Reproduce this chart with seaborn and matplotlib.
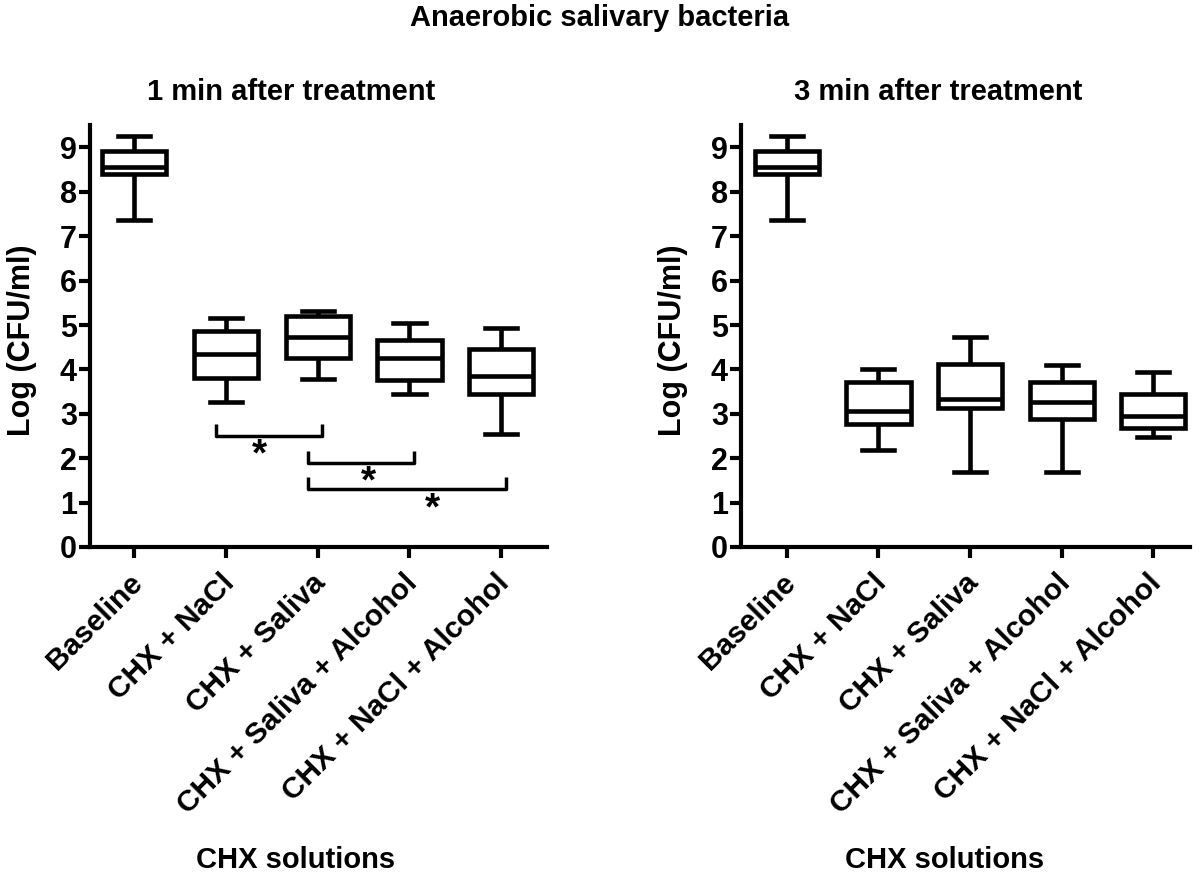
import numpy as np
import pandas as pd
import matplotlib
matplotlib.use("Agg")
import matplotlib.pyplot as plt
import matplotlib.transforms as mtrans
import seaborn as sns

groups = ['Baseline', 'CHX + NaCl', 'CHX + Saliva',
          'CHX + Saliva + Alcohol', 'CHX + NaCl + Alcohol']

# five-number summaries per group: min, q1, median, q3, max
stats_1min = [
    [7.37, 8.40, 8.55, 8.91, 9.25],
    [3.26, 3.81, 4.35, 4.86, 5.15],
    [3.79, 4.26, 4.74, 5.20, 5.31],
    [3.44, 3.77, 4.25, 4.67, 5.04],
    [2.54, 3.44, 3.86, 4.45, 4.94],
]
stats_3min = [
    [7.37, 8.40, 8.55, 8.91, 9.25],
    [2.18, 2.78, 3.06, 3.71, 4.01],
    [1.69, 3.14, 3.34, 4.13, 4.74],
    [1.69, 2.89, 3.26, 3.71, 4.10],
    [2.48, 2.69, 2.94, 3.44, 3.94],
]

# significance brackets (1 min panel): start, end, height
sig_left = [1, 2, 2]
sig_right = [2, 3, 4]
sig_y = [2.5, 1.9, 1.3]

plt.rcParams['font.family'] = ['Liberation Sans', 'DejaVu Sans']
plt.rcParams['font.weight'] = 'bold'

def to_frame(stats):
    rows = []
    for g, vals in zip(groups, stats):
        for v in vals:
            rows.append((g, v))
    return pd.DataFrame(rows, columns=['group', 'value'])

fig = plt.figure(figsize=(12, 8.76), dpi=100)
ax1 = fig.add_axes([0.075, 0.3756, 0.381, 0.4814])
ax2 = fig.add_axes([0.6175, 0.3756, 0.3742, 0.4814])

shift = mtrans.ScaledTranslation(-6 / 100, -6 / 100, fig.dpi_scale_trans)

for ax, stats, title, xlim in [(ax1, stats_1min, '1 min after treatment', (-0.48, 4.5)),
                               (ax2, stats_3min, '3 min after treatment', (-0.5, 4.4))]:
    df = to_frame(stats)
    sns.boxplot(data=df, x='group', y='value', order=groups, ax=ax,
                color='white', linecolor='black', linewidth=3.3,
                whis=(0, 100), width=0.7, showfliers=False)
    ax.set_xlim(*xlim)
    ax.set_ylim(0, 9.5)
    ax.set_yticks(range(10))
    for s in ['top', 'right']:
        ax.spines[s].set_visible(False)
    for s in ['left', 'bottom']:
        ax.spines[s].set_linewidth(3)
    ax.tick_params(width=3, length=8, labelsize=22, direction='out')
    ax.tick_params(axis='y', pad=1.5)
    ax.set_xticks(range(len(groups)))
    ax.set_xticklabels(groups, rotation=45, ha='right', va='top',
                       rotation_mode='anchor', fontsize=21.5, fontweight='bold')
    for lab in ax.get_xticklabels():
        lab.set_transform(lab.get_transform() + shift)
    for lab in ax.get_yticklabels():
        lab.set_fontweight('bold')
    ax.set_xlabel('CHX solutions', fontsize=21, fontweight='bold')
    ax.set_ylabel('Log (CFU/ml)', fontsize=22, fontweight='bold')
    ax.text(0.44, 1.078, title, transform=ax.transAxes, ha='center',
            va='center', fontsize=21, fontweight='bold')

ax1.xaxis.set_label_coords(0.449, -0.71)
ax2.xaxis.set_label_coords(0.454, -0.71)
ax1.yaxis.set_label_coords(-0.115, 0.49)
ax2.yaxis.set_label_coords(-0.118, 0.49)

# brackets with stars
for a, b, y in zip(sig_left, sig_right, sig_y):
    x0, x1 = a - 0.11, b + 0.05
    ax1.plot([x0, x0, x1, x1], [y + 0.27, y, y, y + 0.27], color='black', lw=2.5,
             solid_capstyle='butt', clip_on=False)
star_x = [1.37, 2.55, 3.25]
star_y = [2.05, 1.45, 0.85]
for x, y in zip(star_x, star_y):
    ax1.text(x, y, '*', ha='center', va='center', fontsize=28, fontweight='bold')

fig.text(0.5, 0.979, 'Anaerobic salivary bacteria', ha='center', va='center',
         fontsize=21, fontweight='bold')

fig.savefig('out.png', dpi=100, facecolor='white')
